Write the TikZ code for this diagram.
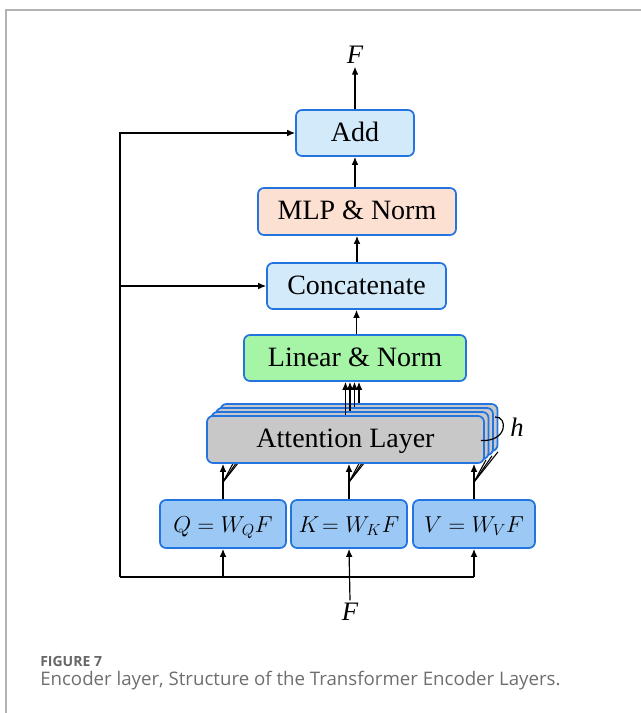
\documentclass[tikz,border=0pt]{standalone}
\usepackage{fontspec}
\setmainfont{Liberation Serif}
\newfontfamily\capfont{Open Sans}
\usetikzlibrary{positioning, arrows.meta, calc}

\definecolor{edgeblue}{RGB}{35,115,225}
\definecolor{addblue}{RGB}{210,234,250}
\definecolor{mlppeach}{RGB}{252,224,210}
\definecolor{lingreen}{RGB}{166,244,166}
\definecolor{attgray}{RGB}{200,200,200}
\definecolor{qkvblue}{RGB}{155,200,244}
\definecolor{capgray}{RGB}{110,110,110}

\begin{document}
\begin{tikzpicture}[x=0.75pt, y=-0.75pt,
      blk/.style={draw=edgeblue, line width=1.3pt, rounded corners=4.5pt, inner sep=0pt,
        text height=16pt, text depth=3.5pt, font=\fontsize{21}{21}\selectfont},
      att/.style={blk, fill=attgray, minimum width=207.75pt, minimum height=35.25pt},
      qkv/.style={blk, fill=qkvblue, minimum width=#1, minimum height=36pt,
        text height=13pt, text depth=1pt, font=\fontsize{16.5}{16.5}\selectfont},
      arr/.style={-{Latex[length=6pt, width=5pt]}, line width=0.9pt},
      var/.style={font=\fontsize{20}{20}\selectfont\itshape, inner sep=2pt}]
      \useasboundingbox (0,0) rectangle (641,713);
      \draw[black!30, line width=1pt] (6,713) -- (6,10) -- (641,10);

      \node[blk, fill=addblue, minimum width=88.5pt, minimum height=34.5pt] (add) at (355,133) {Add};
      \node[blk, fill=mlppeach, minimum width=148.5pt, minimum height=35.25pt] (mlp) at (357,211.5) {MLP \& Norm};
      \node[blk, fill=addblue, minimum width=134.25pt, minimum height=34.5pt] (concat) at (356.5,286) {Concatenate};
      \node[blk, fill=lingreen, minimum width=166.5pt, minimum height=34.5pt] (lin) at (355,358) {Linear \& Norm};

      % h stacked heads, back to front
      \node[att] (att3) at (359,427.5) {};
      \node[att] (att2) at (354.5,431.5) {};
      \node[att] (att1) at (350,435.5) {};

      \node[qkv=94.5pt] (q) at (223,524) {$Q = W_Q F$};
      \node[qkv=87pt] (k) at (349,524) {$K\!= W_K F$};
      \node[qkv=91.5pt] (v) at (474,524) {$V = W_V F$};

      \foreach \n in {q, k, v} {
        \foreach \i in {1,2,3}
          \draw[line width=0.8pt] ($(\n.north)+(0,-17)$) -- ($(\n.north |- att1.south)+(6+6*\i,4-4*\i)$);
      }
      \node[att] (att) at (345.5,439.5) {Attention Layer};

      \node[var] (fout) at (355,55) {F};
      \node[var] (fin) at (350,612) {F};
      \node[var] (hlab) at (517,427) {h};

      \draw[arr] (add.north) -- (fout.south);
      \draw[arr] (mlp.north -| add.south) -- (add.south);
      \draw[arr] (concat.north -| mlp.south) -- (mlp.south);
      \draw[arr] (lin.north -| concat.south) -- (concat.south);
      \draw[arr] (att.north) -- (att.north |- lin.south);
      \foreach \n in {att1, att2, att3}
        \draw[arr] (\n.north) -- (\n.north |- lin.south);
      \foreach \n in {q, k, v}
        \draw[arr] (\n.north) -- (\n.north |- att.south);
      \draw[line width=0.9pt] ($(att.east)+(-4,1)$) .. controls (508,442) and (508,416) .. (495,417);

      \coordinate (bl) at (120,577);
      \draw[arr] (fin.north) -- (k.south);
      \draw[line width=0.9pt] (bl) -- (v.south |- bl);
      \draw[arr] (q.south |- bl) -- (q.south);
      \draw[arr] (v.south |- bl) -- (v.south);
      \draw[arr] (bl) |- (add.west);
      \draw[arr] (bl |- concat.west) -- (concat.west);

      \node[anchor=base west, inner sep=0pt, text=black!60, font=\capfont\bfseries\fontsize{10.5}{10.5}\selectfont] (fig) at (40,666) {FIGURE 7};
      \node[anchor=base west, inner sep=0pt, text=capgray, font=\capfont\fontsize{14}{14}\selectfont] (cap) at (40,685) {Encoder layer, Structure of the Transformer Encoder Layers.};
\end{tikzpicture}
\end{document}
